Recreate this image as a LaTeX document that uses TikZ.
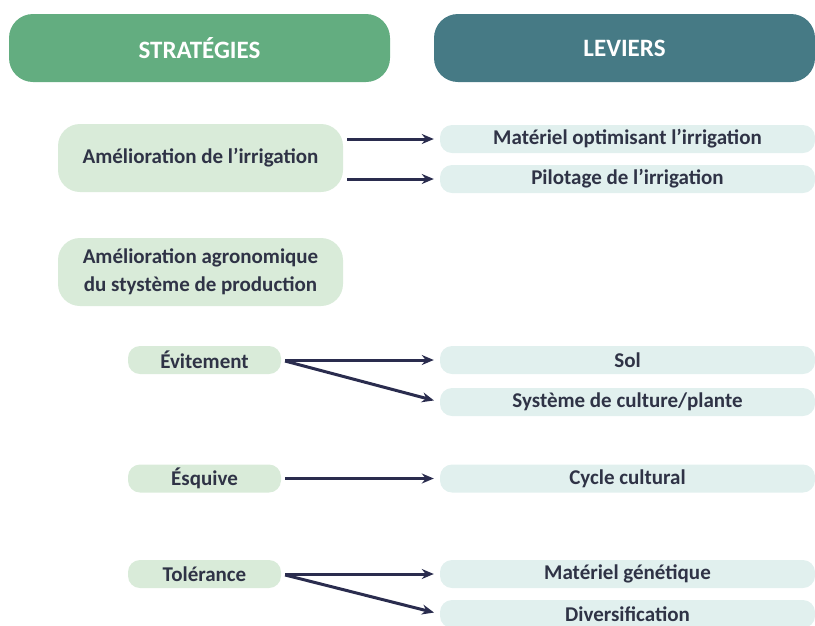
\documentclass[tikz,border=0pt]{standalone}
\usepackage{fontspec}
\setmainfont{Carlito}
\usetikzlibrary{arrows.meta}

\definecolor{vertfonce}{HTML}{63AD80}
\definecolor{bleufonce}{HTML}{467A85}
\definecolor{vertclair}{HTML}{D9EBD9}
\definecolor{bleuclair}{HTML}{E1F0EE}
\definecolor{texte}{HTML}{2F3346}
\definecolor{fleche}{HTML}{2A2C4E}

\tikzstyle{titre}    =[rounded corners=24pt, minimum height=68pt, minimum width=381pt, text=white, font=\fontsize{25}{28}\selectfont\bfseries]
\tikzstyle{strategie}=[fill=vertclair, rounded corners=22pt, minimum height=68pt, minimum width=285pt, text=texte, align=center, font=\fontsize{21}{28}\selectfont\bfseries]
\tikzstyle{souscat}  =[fill=vertclair, rounded corners=12pt, minimum height=28pt, minimum width=153pt, text=texte, font=\fontsize{21}{24}\selectfont\bfseries]
\tikzstyle{levier}   =[fill=bleuclair, rounded corners=12pt, minimum height=28pt, minimum width=375pt, text=texte, font=\fontsize{21}{24}\selectfont\bfseries]
\tikzstyle{lien}     =[draw=fleche, line width=3pt, -{Stealth[length=12pt,width=10pt]}, shorten <=4pt, shorten >=6pt]

\begin{document}
\begin{tikzpicture}[x=1pt,y=-1pt]

\useasboundingbox (0,0) rectangle (815,625);

%en-têtes
\node[titre, fill=vertfonce] (strat) at (199.5,48) {STRATÉGIES};
\node[titre, fill=bleufonce] (lev) at (624.5,48) {LEVIERS};

%stratégies
\node[strategie] (irrig) at (200.5,158) {Amélioration de l’irrigation};
\node[strategie] (agro) at (200.5,272) {Amélioration agronomique\\du stystème de production};
\node[souscat] (evit) at (204.5,360) {Évitement};
\node[souscat] (esq) at (204.5,478.5) {Ésquive};
\node[souscat] (tol) at (204.5,574) {Tolérance};

%leviers
\node[levier] (mat) at (627.5,139) {Matériel optimisant l’irrigation};
\node[levier] (pil) at (627.5,179) {Pilotage de l’irrigation};
\node[levier] (sol) at (627.5,360) {Sol};
\node[levier] (sys) at (627.5,402) {Système de culture/plante};
\node[levier] (cyc) at (627.5,478.5) {Cycle cultural};
\node[levier] (gen) at (627.5,574) {Matériel génétique};
\node[levier] (div) at (627.5,614) {Diversification};

%flèches
\draw[lien] (irrig.east |- mat.west) -- (mat.west);
\draw[lien] (irrig.east |- pil.west) -- (pil.west);
\draw[lien] (evit.east) -- (sol.west);
\draw[lien] (evit.east) -- (sys.west);
\draw[lien] (esq.east) -- (cyc.west);
\draw[lien] (tol.east) -- (gen.west);
\draw[lien] (tol.east) -- (div.west);

\end{tikzpicture}
\end{document}
